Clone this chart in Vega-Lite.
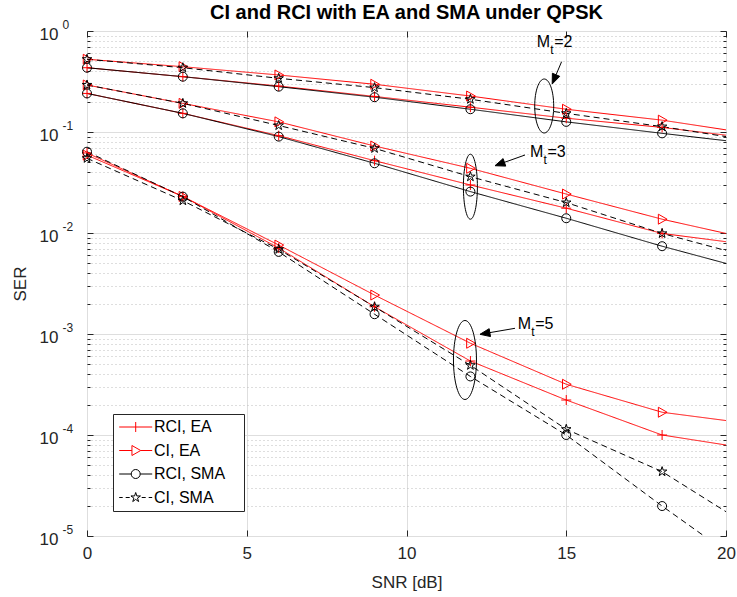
{
  "$schema": "https://vega.github.io/schema/vega-lite/v6.json",
  "width": 639,
  "height": 505,
  "autosize": {"type": "none"},
  "padding": {"left": 87, "top": 31, "right": 11, "bottom": 61},
  "background": "white",
  "config": {"view": {"stroke": "#262626", "strokeWidth": 1}, "font": "Liberation Sans"},
  "title": {"text": "CI and RCI with EA and SMA under QPSK", "font": "Liberation Sans", "fontSize": 20, "fontWeight": "bold", "color": "#000000", "anchor": "middle", "frame": "group", "baseline": "alphabetic", "offset": -21},
  "datasets": {
    "curves": [
      {"mt": "2", "series": "RCI, EA", "curve": "2 RCI, EA", "snr": 0, "ser": 0.433},
      {"mt": "2", "series": "RCI, EA", "curve": "2 RCI, EA", "snr": 3, "ser": 0.353},
      {"mt": "2", "series": "RCI, EA", "curve": "2 RCI, EA", "snr": 6, "ser": 0.285},
      {"mt": "2", "series": "RCI, EA", "curve": "2 RCI, EA", "snr": 9, "ser": 0.225},
      {"mt": "2", "series": "RCI, EA", "curve": "2 RCI, EA", "snr": 12, "ser": 0.176},
      {"mt": "2", "series": "RCI, EA", "curve": "2 RCI, EA", "snr": 15, "ser": 0.137},
      {"mt": "2", "series": "RCI, EA", "curve": "2 RCI, EA", "snr": 18, "ser": 0.111},
      {"mt": "2", "series": "RCI, EA", "curve": "2 RCI, EA", "snr": 20, "ser": 0.093},
      {"mt": "2", "series": "CI, EA", "curve": "2 CI, EA", "snr": 0, "ser": 0.525},
      {"mt": "2", "series": "CI, EA", "curve": "2 CI, EA", "snr": 3, "ser": 0.443},
      {"mt": "2", "series": "CI, EA", "curve": "2 CI, EA", "snr": 6, "ser": 0.367},
      {"mt": "2", "series": "CI, EA", "curve": "2 CI, EA", "snr": 9, "ser": 0.297},
      {"mt": "2", "series": "CI, EA", "curve": "2 CI, EA", "snr": 12, "ser": 0.227},
      {"mt": "2", "series": "CI, EA", "curve": "2 CI, EA", "snr": 15, "ser": 0.168},
      {"mt": "2", "series": "CI, EA", "curve": "2 CI, EA", "snr": 18, "ser": 0.131},
      {"mt": "2", "series": "CI, EA", "curve": "2 CI, EA", "snr": 20, "ser": 0.105},
      {"mt": "2", "series": "RCI, SMA", "curve": "2 RCI, SMA", "snr": 0, "ser": 0.433},
      {"mt": "2", "series": "RCI, SMA", "curve": "2 RCI, SMA", "snr": 3, "ser": 0.353},
      {"mt": "2", "series": "RCI, SMA", "curve": "2 RCI, SMA", "snr": 6, "ser": 0.281},
      {"mt": "2", "series": "RCI, SMA", "curve": "2 RCI, SMA", "snr": 9, "ser": 0.221},
      {"mt": "2", "series": "RCI, SMA", "curve": "2 RCI, SMA", "snr": 12, "ser": 0.168},
      {"mt": "2", "series": "RCI, SMA", "curve": "2 RCI, SMA", "snr": 15, "ser": 0.126},
      {"mt": "2", "series": "RCI, SMA", "curve": "2 RCI, SMA", "snr": 18, "ser": 0.097},
      {"mt": "2", "series": "RCI, SMA", "curve": "2 RCI, SMA", "snr": 20, "ser": 0.082},
      {"mt": "2", "series": "CI, SMA", "curve": "2 CI, SMA", "snr": 0, "ser": 0.525},
      {"mt": "2", "series": "CI, SMA", "curve": "2 CI, SMA", "snr": 3, "ser": 0.433},
      {"mt": "2", "series": "CI, SMA", "curve": "2 CI, SMA", "snr": 6, "ser": 0.34},
      {"mt": "2", "series": "CI, SMA", "curve": "2 CI, SMA", "snr": 9, "ser": 0.275},
      {"mt": "2", "series": "CI, SMA", "curve": "2 CI, SMA", "snr": 12, "ser": 0.211},
      {"mt": "2", "series": "CI, SMA", "curve": "2 CI, SMA", "snr": 15, "ser": 0.153},
      {"mt": "2", "series": "CI, SMA", "curve": "2 CI, SMA", "snr": 18, "ser": 0.113},
      {"mt": "2", "series": "CI, SMA", "curve": "2 CI, SMA", "snr": 20, "ser": 0.09},
      {"mt": "3", "series": "RCI, EA", "curve": "3 RCI, EA", "snr": 0, "ser": 0.241},
      {"mt": "3", "series": "RCI, EA", "curve": "3 RCI, EA", "snr": 3, "ser": 0.153},
      {"mt": "3", "series": "RCI, EA", "curve": "3 RCI, EA", "snr": 6, "ser": 0.092},
      {"mt": "3", "series": "RCI, EA", "curve": "3 RCI, EA", "snr": 9, "ser": 0.052},
      {"mt": "3", "series": "RCI, EA", "curve": "3 RCI, EA", "snr": 12, "ser": 0.0299},
      {"mt": "3", "series": "RCI, EA", "curve": "3 RCI, EA", "snr": 15, "ser": 0.0176},
      {"mt": "3", "series": "RCI, EA", "curve": "3 RCI, EA", "snr": 18, "ser": 0.0099},
      {"mt": "3", "series": "RCI, EA", "curve": "3 RCI, EA", "snr": 20, "ser": 0.0082},
      {"mt": "3", "series": "CI, EA", "curve": "3 CI, EA", "snr": 0, "ser": 0.292},
      {"mt": "3", "series": "CI, EA", "curve": "3 CI, EA", "snr": 3, "ser": 0.192},
      {"mt": "3", "series": "CI, EA", "curve": "3 CI, EA", "snr": 6, "ser": 0.126},
      {"mt": "3", "series": "CI, EA", "curve": "3 CI, EA", "snr": 9, "ser": 0.0727},
      {"mt": "3", "series": "CI, EA", "curve": "3 CI, EA", "snr": 12, "ser": 0.0437},
      {"mt": "3", "series": "CI, EA", "curve": "3 CI, EA", "snr": 15, "ser": 0.0243},
      {"mt": "3", "series": "CI, EA", "curve": "3 CI, EA", "snr": 18, "ser": 0.0137},
      {"mt": "3", "series": "CI, EA", "curve": "3 CI, EA", "snr": 20, "ser": 0.0099},
      {"mt": "3", "series": "RCI, SMA", "curve": "3 RCI, SMA", "snr": 0, "ser": 0.241},
      {"mt": "3", "series": "RCI, SMA", "curve": "3 RCI, SMA", "snr": 3, "ser": 0.153},
      {"mt": "3", "series": "RCI, SMA", "curve": "3 RCI, SMA", "snr": 6, "ser": 0.09},
      {"mt": "3", "series": "RCI, SMA", "curve": "3 RCI, SMA", "snr": 9, "ser": 0.049},
      {"mt": "3", "series": "RCI, SMA", "curve": "3 RCI, SMA", "snr": 12, "ser": 0.0257},
      {"mt": "3", "series": "RCI, SMA", "curve": "3 RCI, SMA", "snr": 15, "ser": 0.014},
      {"mt": "3", "series": "RCI, SMA", "curve": "3 RCI, SMA", "snr": 18, "ser": 0.0074},
      {"mt": "3", "series": "RCI, SMA", "curve": "3 RCI, SMA", "snr": 20, "ser": 0.005},
      {"mt": "3", "series": "CI, SMA", "curve": "3 CI, SMA", "snr": 0, "ser": 0.292},
      {"mt": "3", "series": "CI, SMA", "curve": "3 CI, SMA", "snr": 3, "ser": 0.192},
      {"mt": "3", "series": "CI, SMA", "curve": "3 CI, SMA", "snr": 6, "ser": 0.116},
      {"mt": "3", "series": "CI, SMA", "curve": "3 CI, SMA", "snr": 9, "ser": 0.0689},
      {"mt": "3", "series": "CI, SMA", "curve": "3 CI, SMA", "snr": 12, "ser": 0.0361},
      {"mt": "3", "series": "CI, SMA", "curve": "3 CI, SMA", "snr": 15, "ser": 0.02},
      {"mt": "3", "series": "CI, SMA", "curve": "3 CI, SMA", "snr": 18, "ser": 0.0099},
      {"mt": "3", "series": "CI, SMA", "curve": "3 CI, SMA", "snr": 20, "ser": 0.0067},
      {"mt": "5", "series": "RCI, EA", "curve": "5 RCI, EA", "snr": 0, "ser": 0.062},
      {"mt": "5", "series": "RCI, EA", "curve": "5 RCI, EA", "snr": 3, "ser": 0.023},
      {"mt": "5", "series": "RCI, EA", "curve": "5 RCI, EA", "snr": 6, "ser": 0.0071},
      {"mt": "5", "series": "RCI, EA", "curve": "5 RCI, EA", "snr": 9, "ser": 0.00186},
      {"mt": "5", "series": "RCI, EA", "curve": "5 RCI, EA", "snr": 12, "ser": 0.00054},
      {"mt": "5", "series": "RCI, EA", "curve": "5 RCI, EA", "snr": 15, "ser": 0.000222},
      {"mt": "5", "series": "RCI, EA", "curve": "5 RCI, EA", "snr": 18, "ser": 0.0001},
      {"mt": "5", "series": "RCI, EA", "curve": "5 RCI, EA", "snr": 20, "ser": 0.0000796},
      {"mt": "5", "series": "CI, EA", "curve": "5 CI, EA", "snr": 0, "ser": 0.059},
      {"mt": "5", "series": "CI, EA", "curve": "5 CI, EA", "snr": 3, "ser": 0.023},
      {"mt": "5", "series": "CI, EA", "curve": "5 CI, EA", "snr": 6, "ser": 0.0076},
      {"mt": "5", "series": "CI, EA", "curve": "5 CI, EA", "snr": 9, "ser": 0.00243},
      {"mt": "5", "series": "CI, EA", "curve": "5 CI, EA", "snr": 12, "ser": 0.00081},
      {"mt": "5", "series": "CI, EA", "curve": "5 CI, EA", "snr": 15, "ser": 0.000318},
      {"mt": "5", "series": "CI, EA", "curve": "5 CI, EA", "snr": 18, "ser": 0.000168},
      {"mt": "5", "series": "CI, EA", "curve": "5 CI, EA", "snr": 20, "ser": 0.000139},
      {"mt": "5", "series": "RCI, SMA", "curve": "5 RCI, SMA", "snr": 0, "ser": 0.0638},
      {"mt": "5", "series": "RCI, SMA", "curve": "5 RCI, SMA", "snr": 3, "ser": 0.0229},
      {"mt": "5", "series": "RCI, SMA", "curve": "5 RCI, SMA", "snr": 6, "ser": 0.0065},
      {"mt": "5", "series": "RCI, SMA", "curve": "5 RCI, SMA", "snr": 9, "ser": 0.00157},
      {"mt": "5", "series": "RCI, SMA", "curve": "5 RCI, SMA", "snr": 12, "ser": 0.00038},
      {"mt": "5", "series": "RCI, SMA", "curve": "5 RCI, SMA", "snr": 15, "ser": 0.0001},
      {"mt": "5", "series": "RCI, SMA", "curve": "5 RCI, SMA", "snr": 18, "ser": 0.0000198},
      {"mt": "5", "series": "RCI, SMA", "curve": "5 RCI, SMA", "snr": 20, "ser": 0.000007},
      {"mt": "5", "series": "CI, SMA", "curve": "5 CI, SMA", "snr": 0, "ser": 0.0549},
      {"mt": "5", "series": "CI, SMA", "curve": "5 CI, SMA", "snr": 3, "ser": 0.0209},
      {"mt": "5", "series": "CI, SMA", "curve": "5 CI, SMA", "snr": 6, "ser": 0.0069},
      {"mt": "5", "series": "CI, SMA", "curve": "5 CI, SMA", "snr": 9, "ser": 0.00186},
      {"mt": "5", "series": "CI, SMA", "curve": "5 CI, SMA", "snr": 12, "ser": 0.00049},
      {"mt": "5", "series": "CI, SMA", "curve": "5 CI, SMA", "snr": 15, "ser": 0.000114},
      {"mt": "5", "series": "CI, SMA", "curve": "5 CI, SMA", "snr": 18, "ser": 0.0000434},
      {"mt": "5", "series": "CI, SMA", "curve": "5 CI, SMA", "snr": 20, "ser": 0.0000174}
    ],
    "ellipses": [
      {"mt": "2", "snr": 14.31, "ser": 0.1809},
      {"mt": "3", "snr": 12.0, "ser": 0.02873},
      {"mt": "5", "snr": 11.83, "ser": 0.000553}
    ],
    "arrows": [
      {"mt": "2", "snr": 14.56, "ser": 0.2987},
      {"mt": "3", "snr": 12.77, "ser": 0.04638},
      {"mt": "5", "snr": 12.30, "ser": 0.000993}
    ],
    "labels": [
      {"mt": "2", "rest": "=2", "snr": 14.075, "ser": 0.6993},
      {"mt": "3", "rest": "=3", "snr": 13.865, "ser": 0.05692},
      {"mt": "5", "rest": "=5", "snr": 13.48, "ser": 0.001113}
    ]
  },
  "layer": [
    {
      "data": {"name": "curves"},
      "mark": {"type": "line", "strokeWidth": 1, "clip": true},
      "encoding": {
        "x": {"field": "snr", "type": "quantitative", "scale": {"domain": [0, 20], "nice": false, "zero": false},
          "axis": {"orient": "bottom", "values": [0, 5, 10, 15, 20], "format": "d", "grid": true, "gridColor": "#dedede", "ticks": false, "domain": false,
            "labelFont": "Liberation Sans", "labelFontSize": 17, "labelColor": "#262626", "labelPadding": 9, "labelFlush": false, "labelOverlap": false, "labelBound": false,
            "title": "SNR [dB]", "titleFont": "Liberation Sans", "titleFontSize": 17, "titleFontWeight": "normal", "titleColor": "#262626", "titleBaseline": "alphabetic", "titleY": 51}},
        "y": {"field": "ser", "type": "quantitative", "scale": {"type": "log", "domain": [0.00001, 1], "nice": false},
          "axis": {"orient": "left", "values": [0.00001,0.00002,0.00003,0.00004,0.00005,0.00006,0.00007,0.00008,0.00009,0.0001,0.0002,0.0003,0.0004,0.0005,0.0006,0.0007,0.0008,0.0009,0.001,0.002,0.003,0.004,0.005,0.006,0.007,0.008,0.009,0.01,0.02,0.03,0.04,0.05,0.06,0.07,0.08,0.09,0.1,0.2,0.3,0.4,0.5,0.6,0.7,0.8,0.9,1],
            "labels": false, "domain": false, "grid": true,
            "gridColor": {"condition": {"test": "abs(log(datum.value)/LN10 - round(log(datum.value)/LN10)) < 0.001", "value": "#dedede"}, "value": "#bdbdbd"},
            "gridDash": {"condition": {"test": "abs(log(datum.value)/LN10 - round(log(datum.value)/LN10)) < 0.001", "value": []}, "value": [1, 3]},
            "ticks": true, "tickColor": "#262626",
            "tickSize": {"condition": {"test": "abs(log(datum.value)/LN10 - round(log(datum.value)/LN10)) < 0.001", "value": -6}, "value": -3},
            "title": "SER", "titleFont": "Liberation Sans", "titleFontSize": 17, "titleFontWeight": "normal", "titleColor": "#262626", "titleX": -67, "titleBaseline": "middle"}},
        "color": {"field": "series", "type": "nominal", "scale": {"domain": ["RCI, EA", "CI, EA", "RCI, SMA", "CI, SMA"], "range": ["#ff0000", "#ff0000", "#000000", "#000000"]}, "legend": null},
        "strokeDash": {"field": "curve", "type": "nominal",
          "scale": {"domain": ["2 RCI, EA", "2 CI, EA", "2 RCI, SMA", "2 CI, SMA", "3 RCI, EA", "3 CI, EA", "3 RCI, SMA", "3 CI, SMA", "5 RCI, EA", "5 CI, EA", "5 RCI, SMA", "5 CI, SMA"],
            "range": [[1, 0], [1, 0], [1, 0], [6, 4], [1, 0], [1, 0], [1, 0], [6, 4], [1, 0], [1, 0], [6, 4], [6, 4]]},
          "legend": null}
      }
    },
    {
      "data": {"name": "curves"},
      "transform": [{"filter": "datum.snr < 20"}],
      "mark": {"type": "point", "filled": false, "strokeWidth": 1, "size": 100, "opacity": 1},
      "encoding": {
        "x": {"field": "snr", "type": "quantitative",
          "axis": {"orient": "bottom", "values": [0, 5, 10, 15, 20], "labels": false, "grid": false, "ticks": true, "tickSize": -6, "tickColor": "#262626", "domain": false, "title": null, "minExtent": 0, "maxExtent": 0}},
        "y": {"field": "ser", "type": "quantitative",
          "axis": {"orient": "left", "values": [0.00001, 0.0001, 0.001, 0.01, 0.1, 1], "labelExpr": "'10'", "labelFont": "Liberation Sans", "labelFontSize": 17, "labelColor": "#262626", "labelAlign": "right", "labelBaseline": "middle", "labelPadding": 29, "labelOffset": 3, "labelFlush": false, "labelOverlap": false, "labelBound": false, "ticks": false, "grid": false, "domain": false, "title": null}},
        "color": {"field": "series", "type": "nominal", "legend": null},
        "shape": {"field": "series", "type": "nominal",
          "scale": {"domain": ["RCI, EA", "CI, EA", "RCI, SMA", "CI, SMA"],
            "range": ["M-1,0L1,0M0,-1L0,1", "M-0.75,-1L1,0L-0.75,1Z", "M0.9,0C0.9,0.497,0.497,0.9,0,0.9C-0.497,0.9,-0.9,0.497,-0.9,0C-0.9,-0.497,-0.497,-0.9,0,-0.9C0.497,-0.9,0.9,-0.497,0.9,0Z", "M0,-1L0.2245,-0.309L0.951,-0.309L0.363,0.118L0.588,0.809L0,0.382L-0.588,0.809L-0.363,0.118L-0.951,-0.309L-0.2245,-0.309Z"]},
          "legend": null}
      }
    },
    {
      "data": {"name": "curves"},
      "transform": [{"filter": "datum.snr == 0 && datum.mt == '2'"}],
      "mark": {"type": "point", "filled": false, "strokeWidth": 1, "size": 100, "opacity": 0},
      "encoding": {
        "x": {"field": "snr", "type": "quantitative", "axis": null},
        "y": {"field": "ser", "type": "quantitative", "axis": null},
        "color": {"field": "series", "type": "nominal",
          "legend": {"title": null, "orient": "none", "legendX": 26, "legendY": 383, "symbolSize": 100, "symbolStrokeWidth": 1, "symbolFillColor": "transparent", "symbolOpacity": 1, "symbolOffset": 0, "labelOffset": 20, "labelFont": "Liberation Sans", "labelFontSize": 16, "labelColor": "#000000", "labelExpr": "datum.label + '\u00a0\u00a0\u00a0\u200b'", "padding": 5, "rowPadding": 7.5, "strokeColor": "#262626", "fillColor": "#ffffff"}},
        "shape": {"field": "series", "type": "nominal",
          "scale": {"domain": ["RCI, EA", "CI, EA", "RCI, SMA", "CI, SMA"],
            "range": ["M-1.36,0L5.24,0M1.94,-1L1.94,1",
              "M-1.36,0L1.19,0M2.94,0L5.24,0M1.19,-1L2.94,0L1.19,1Z",
              "M-1.36,0L1.04,0M2.84,0L5.24,0M2.84,0C2.84,0.497,2.437,0.9,1.94,0.9C1.443,0.9,1.04,0.497,1.04,0C1.04,-0.497,1.443,-0.9,1.94,-0.9C2.437,-0.9,2.84,-0.497,2.84,0Z",
              "M-1.36,0L-0.66,0M-0.06,0L0.74,0M3.14,0L3.94,0M4.54,0L5.24,0M1.94,-1L2.1645,-0.309L2.891,-0.309L2.303,0.118L2.528,0.809L1.94,0.382L1.352,0.809L1.577,0.118L0.989,-0.309L1.7155,-0.309Z"]},
          "legend": {"title": null, "orient": "none", "legendX": 26, "legendY": 383, "symbolSize": 100, "symbolStrokeWidth": 1, "symbolFillColor": "transparent", "symbolOpacity": 1, "symbolOffset": 0, "labelOffset": 20, "labelFont": "Liberation Sans", "labelFontSize": 16, "labelColor": "#000000", "labelExpr": "datum.label + '\u00a0\u00a0\u00a0\u200b'", "padding": 5, "rowPadding": 7.5, "strokeColor": "#262626", "fillColor": "#ffffff"}}
      }
    },
    {
      "data": {"name": "ellipses"},
      "mark": {"type": "point", "filled": false, "stroke": "#000000", "strokeWidth": 1, "size": 6400, "opacity": 1},
      "encoding": {
        "x": {"field": "snr", "type": "quantitative", "axis": null},
        "y": {"field": "ser", "type": "quantitative",
          "axis": {"orient": "left", "values": [0.00001, 0.0001, 0.001, 0.01, 0.1, 1], "labelExpr": "'' + round(log(datum.value)/LN10)", "labelFont": "Liberation Sans", "labelFontSize": 12, "labelColor": "#262626", "labelAlign": "left", "labelBaseline": "middle", "labelPadding": 25, "labelOffset": -7, "labelFlush": false, "labelOverlap": false, "labelBound": false, "ticks": false, "grid": false, "domain": false, "title": null}},
        "shape": {"field": "mt", "type": "nominal",
          "scale": {"domain": ["2", "3", "5"],
            "range": ["M0,-0.675C0.1312,-0.675,0.2375,-0.3728,0.2375,0C0.2375,0.3728,0.1312,0.675,0,0.675C-0.1312,0.675,-0.2375,0.3728,-0.2375,0C-0.2375,-0.3728,-0.1312,-0.675,0,-0.675Z",
              "M0,-0.8125C0.0967,-0.8125,0.175,-0.4487,0.175,0C0.175,0.4487,0.0967,0.8125,0,0.8125C-0.0967,0.8125,-0.175,0.4487,-0.175,0C-0.175,-0.4487,-0.0967,-0.8125,0,-0.8125Z",
              "M0,-0.9875C0.1588,-0.9875,0.2875,-0.5454,0.2875,0C0.2875,0.5454,0.1588,0.9875,0,0.9875C-0.1588,0.9875,-0.2875,0.5454,-0.2875,0C-0.2875,-0.5454,-0.1588,-0.9875,0,-0.9875Z"]},
          "legend": null}
      }
    },
    {
      "data": {"name": "arrows"},
      "mark": {"type": "point", "filled": true, "fill": "#000000", "stroke": "#000000", "strokeWidth": 1, "size": 6400, "opacity": 1},
      "encoding": {
        "x": {"field": "snr", "type": "quantitative",
          "axis": {"orient": "top", "values": [0, 5, 10, 15, 20], "labels": false, "grid": false, "ticks": true, "tickSize": -6, "tickColor": "#262626", "domain": false, "title": null, "minExtent": 0, "maxExtent": 0}},
        "y": {"field": "ser", "type": "quantitative",
          "axis": {"orient": "right", "values": [0.00001,0.00002,0.00003,0.00004,0.00005,0.00006,0.00007,0.00008,0.00009,0.0001,0.0002,0.0003,0.0004,0.0005,0.0006,0.0007,0.0008,0.0009,0.001,0.002,0.003,0.004,0.005,0.006,0.007,0.008,0.009,0.01,0.02,0.03,0.04,0.05,0.06,0.07,0.08,0.09,0.1,0.2,0.3,0.4,0.5,0.6,0.7,0.8,0.9,1],
            "labels": false, "grid": false, "domain": false, "title": null, "ticks": true, "tickColor": "#262626", "minExtent": 0, "maxExtent": 0,
            "tickSize": {"condition": {"test": "abs(log(datum.value)/LN10 - round(log(datum.value)/LN10)) < 0.001", "value": -6}, "value": -3}}},
        "shape": {"field": "mt", "type": "nominal",
          "scale": {"domain": ["2", "3", "5"],
            "range": ["M0,0L0.189,-0.1915L0.005,-0.269ZM0.097,-0.23L0.235,-0.5575",
              "M0,0L0.269,0.0103L0.202,-0.178ZM0.236,-0.084L0.75,-0.2675",
              "M0,0L0.2635,0.0563L0.2295,-0.1408ZM0.2465,-0.0423L0.875,-0.15"]},
          "legend": null}
      }
    },
    {
      "data": {"name": "labels"},
      "mark": {"type": "text", "text": "M", "align": "left", "baseline": "alphabetic", "font": "Liberation Sans", "fontSize": 16, "color": "#000000"},
      "encoding": {
        "x": {"field": "snr", "type": "quantitative", "axis": null},
        "y": {"field": "ser", "type": "quantitative", "axis": null}
      }
    },
    {
      "data": {"name": "labels"},
      "mark": {"type": "text", "text": "t", "align": "left", "baseline": "alphabetic", "font": "Liberation Sans", "fontSize": 12, "dx": 13.5, "dy": 7, "color": "#000000"},
      "encoding": {
        "x": {"field": "snr", "type": "quantitative", "axis": null},
        "y": {"field": "ser", "type": "quantitative", "axis": null}
      }
    },
    {
      "data": {"name": "labels"},
      "mark": {"type": "text", "align": "left", "baseline": "alphabetic", "font": "Liberation Sans", "fontSize": 16, "dx": 17.5, "color": "#000000"},
      "encoding": {
        "x": {"field": "snr", "type": "quantitative", "axis": null},
        "y": {"field": "ser", "type": "quantitative", "axis": null},
        "text": {"field": "rest", "type": "nominal"}
      }
    }
  ],
  "resolve": {
    "scale": {"shape": "independent"},
    "axis": {"x": "independent", "y": "independent"},
    "legend": {"color": "independent", "shape": "independent"}
  }
}
